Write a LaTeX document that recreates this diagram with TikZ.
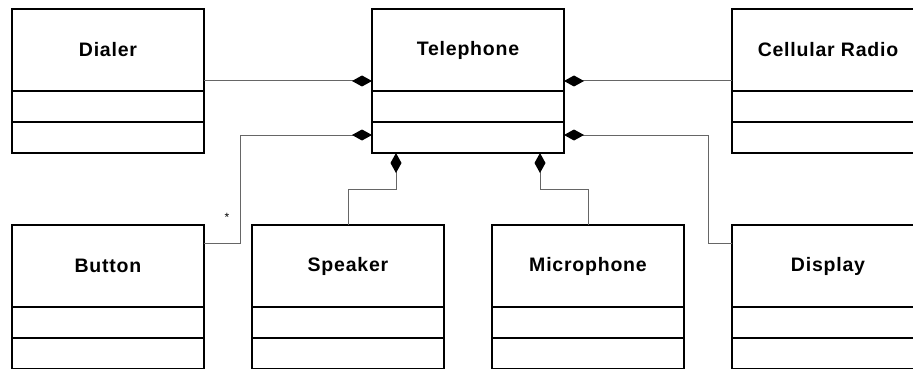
\documentclass[tikz,border=0pt]{standalone}
\usepackage{fontspec}
\usetikzlibrary{arrows.meta}
\newfontfamily\clsfont{Liberation Sans}[LetterSpace=4]
\newfontfamily\plainfont{Liberation Sans}

\tikzset{
  cls/.style={draw=black, line width=2pt, minimum width=192pt, minimum height=144pt,
              inner sep=0pt, outer sep=0pt, fill=white},
  clsname/.style={font=\clsfont\bfseries\fontsize{19.5}{23}\selectfont, inner sep=0pt},
  comp/.style={draw=black!60, line width=1pt,
               {Diamond[length=20pt,width=11pt,color=black]}-},
  assoc/.style={draw=black!60, line width=1pt},
}

% a class box with name and two empty compartments
\newcommand{\umlclass}[3]{%
  \node[cls] (#1) at (#2) {};
  \node[clsname] (#1-name) at ([yshift=31pt]#1.center) {#3};
  \draw[line width=2pt] ([yshift=-10pt]#1.west) -- ([yshift=-10pt]#1.east);
  \draw[line width=2pt] ([yshift=-41pt]#1.west) -- ([yshift=-41pt]#1.east);
}

\begin{document}
\begin{tikzpicture}[x=1pt,y=-1pt]
  \useasboundingbox (0,0) rectangle (913,369);
  \clip (0,0) rectangle (913,369);

  % top row
  \umlclass{dialer}{108,81}{Dialer}
  \umlclass{tel}{468,81}{Telephone}
  \umlclass{radio}{828,81}{Cellular Radio}

  % bottom row
  \umlclass{button}{108,297}{Button}
  \umlclass{speaker}{348,297}{Speaker}
  \umlclass{mic}{588,297}{Microphone}
  \umlclass{display}{828,297}{Display}

  % compositions owned by the telephone
  \draw[comp] (tel.west) -- (dialer.east);
  \draw[comp] (tel.east) -- (radio.west);
  \draw[comp] ([yshift=-54pt]tel.west) -- ++(-132,0) |- ([yshift=54pt]button.east);
  \draw[comp] ([yshift=-54pt]tel.east) -- ++(144,0) |- ([yshift=54pt]display.west);
  \draw[comp] ([xshift=-72pt]tel.south) -- ++(0,36) -| (speaker.north);
  \draw[comp] ([xshift=72pt]tel.south) -- ++(0,36) -| (mic.north);

  % multiplicity
  \node[font=\plainfont\fontsize{12}{14}\selectfont, inner sep=0pt] (mult) at (227,217) {*};
\end{tikzpicture}
\end{document}
